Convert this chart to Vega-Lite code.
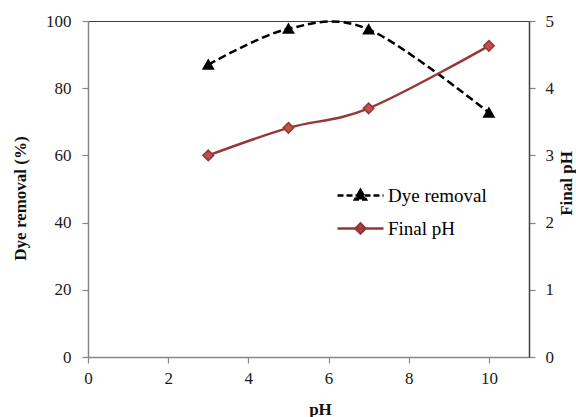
{
  "$schema": "https://vega.github.io/schema/vega-lite/v6.json",
  "width": 441,
  "height": 336,
  "autosize": {"type": "none"},
  "padding": {"left": 88, "top": 21, "right": 47, "bottom": 60},
  "background": "white",
  "config": {
    "font": "Liberation Serif",
    "view": {"stroke": "#404040", "strokeWidth": 1},
    "axis": {"grid": false, "labelFlush": false, "labelFont": "Liberation Serif", "labelFontSize": 17, "labelColor": "#1a1a1a", "titleFont": "Liberation Serif", "titleFontSize": 17, "titleFontWeight": "bold", "titleColor": "#111111", "tickColor": "#868686", "domainColor": "#868686", "tickSize": 6, "domainWidth": 1.5, "tickWidth": 1.2}
  },
  "datasets": {
    "main": [
      {"pH": 3, "series": "Dye removal", "value": 87.0},
      {"pH": 5, "series": "Dye removal", "value": 97.7},
      {"pH": 7, "series": "Dye removal", "value": 97.5},
      {"pH": 10, "series": "Dye removal", "value": 72.7},
      {"pH": 3, "series": "Final pH", "value": 3.0},
      {"pH": 5, "series": "Final pH", "value": 3.41},
      {"pH": 7, "series": "Final pH", "value": 3.7},
      {"pH": 10, "series": "Final pH", "value": 4.63}
    ]
  },
  "data": {"name": "main"},
  "encoding": {
    "x": {"field": "pH", "type": "quantitative", "scale": {"domain": [0, 11], "nice": false, "zero": false},
      "axis": {"values": [0, 2, 4, 6, 8, 10], "title": "pH", "labelPadding": 7, "titleBaseline": "middle", "titleX": 232, "titleY": 52}}
  },
  "layer": [
    {
      "transform": [{"filter": "datum.series === 'Dye removal'"}],
      "encoding": {
        "y": {"field": "value", "type": "quantitative", "scale": {"domain": [0, 100], "nice": false},
          "axis": {"orient": "left", "values": [0, 20, 40, 60, 80, 100], "title": "Dye removal (%)", "labelPadding": 11, "titleAngle": -90, "titleBaseline": "middle", "titleX": -68, "titleY": 177}}
      },
      "layer": [
        {
          "mark": {"type": "line", "interpolate": "cardinal", "strokeDash": [8, 4], "strokeWidth": 2.5},
          "encoding": {
            "color": {"field": "series", "type": "nominal", "scale": {"domain": ["Dye removal", "Final pH"], "range": ["#000000", "#953735"]},
              "legend": {
                "orient": "none", "legendX": 263, "legendY": 165, "title": null, "padding": 0,
                "symbolSize": 100, "labelOffset": 18, "rowPadding": 12,
                "labelFont": "Liberation Serif", "labelFontSize": 19, "labelColor": "#000000",
                "encode": {
                  "symbols": {"update": {
                    "shape": {"signal": "datum.value === 'Dye removal' ? 'M-4.6,0H4.6M0,-1.1L1.1,0.8L-1.1,0.8Z' : 'M-4.6,0H4.6M0,-1L1,0L0,1L-1,0Z'"},
                    "fill": {"signal": "datum.value === 'Dye removal' ? '#000000' : '#c0504d'"},
                    "stroke": {"signal": "datum.value === 'Dye removal' ? '#000000' : '#953735'"},
                    "strokeDash": {"signal": "datum.value === 'Dye removal' ? [6, 3] : [1, 0]"},
                    "strokeWidth": {"value": 2.5},
                    "opacity": {"value": 1},
                    "fillOpacity": {"value": 1}
                  }}
                }
              }}
          }
        },
        {
          "mark": {"type": "point", "shape": "triangle-up", "filled": true, "size": 90, "fill": "#000000", "stroke": "#000000", "opacity": 1}
        }
      ]
    },
    {
      "transform": [{"filter": "datum.series === 'Final pH'"}],
      "encoding": {
        "y": {"field": "value", "type": "quantitative", "scale": {"domain": [0, 5], "nice": false},
          "axis": {"orient": "right", "values": [0, 1, 2, 3, 4, 5], "title": "Final pH", "labelPadding": 10, "domainColor": "#404040", "titleAngle": -90, "titleBaseline": "middle", "titleX": 37, "titleY": 162}}
      },
      "layer": [
        {
          "mark": {"type": "line", "interpolate": "cardinal", "strokeWidth": 2.5},
          "encoding": {
            "color": {"field": "series", "type": "nominal"}
          }
        },
        {
          "mark": {"type": "point", "shape": "diamond", "filled": true, "size": 110, "fill": "#c0504d", "stroke": "#953735", "strokeWidth": 1.5, "opacity": 1}
        }
      ]
    }
  ],
  "resolve": {"scale": {"y": "independent"}}
}
